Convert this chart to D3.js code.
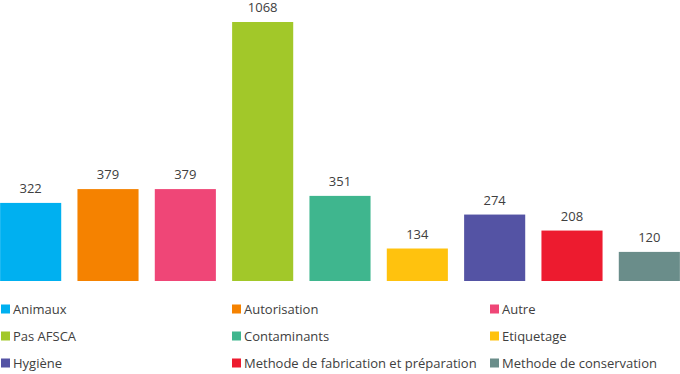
<!DOCTYPE html>
<html>
<head>
<meta charset="utf-8">
<script src="https://cdn.jsdelivr.net/npm/d3@7"></script>
<style>
  body { margin: 0; background: #fff; }
  svg { display: block; font-family: "Open Sans", "Segoe UI", sans-serif; }
</style>
</head>
<body>
<div id="chart"></div>
<script>
const categories = ['Animaux', 'Autorisation', 'Autre', 'Pas AFSCA', 'Contaminants', 'Etiquetage', 'Hygiène', 'Methode de fabrication et préparation', 'Methode de conservation'];
const values = [322, 379, 379, 1068, 351, 134, 274, 208, 120];
const colors = ['#00B0F0', '#F58200', '#EF4677', '#A2C829', '#3FB68E', '#FFC20E', '#5453A4', '#ED1B2F', '#6A8D8A'];

const width = 680, height = 374;

const svg = d3.select('#chart')
    .append('svg')
    .attr('width', width)
    .attr('height', height);

const x = d3.scaleBand()
    .domain(categories)
    .range([-8, 688])
    .paddingInner(0.21)
    .paddingOuter(0.105);

const y = d3.scaleLinear()
    .domain([0, 1200])
    .range([281, -10]);

const bars = svg.append('g').attr('class', 'bars');

bars.selectAll('rect')
    .data(categories)
    .enter().append('rect')
    .attr('x', d => x(d))
    .attr('y', (d, i) => y(values[i]))
    .attr('width', x.bandwidth())
    .attr('height', (d, i) => y(0) - y(values[i]))
    .attr('fill', (d, i) => colors[i]);

bars.selectAll('text')
    .data(categories)
    .enter().append('text')
    .attr('x', d => x(d) + x.bandwidth() / 2)
    .attr('y', (d, i) => y(values[i]) - 10)
    .attr('text-anchor', 'middle')
    .attr('font-size', '13px')
    .attr('fill', '#404040')
    .text((d, i) => values[i]);

// Legend: 3 columns, row-major
const colX = [1, 232, 490];
const rowY = [309, 336, 363];

const legend = svg.append('g').attr('class', 'legend')
    .selectAll('g')
    .data(categories)
    .enter().append('g')
    .attr('transform', (d, i) => `translate(${colX[i % 3]},${rowY[Math.floor(i / 3)]})`);

legend.append('rect')
    .attr('x', 0)
    .attr('y', -4.5)
    .attr('width', 9)
    .attr('height', 9)
    .attr('fill', (d, i) => colors[i]);

legend.append('text')
    .attr('x', 12)
    .attr('dy', '0.35em')
    .attr('font-size', '13px')
    .attr('fill', '#404040')
    .text(d => d);
</script>
</body>
</html>
